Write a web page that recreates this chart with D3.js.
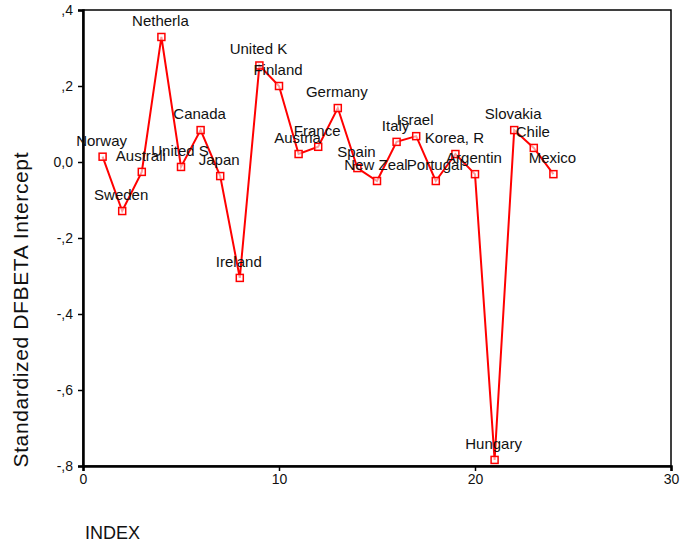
<!DOCTYPE html>
<html lang="en">
<head>
    <meta charset="utf8">
    <title>Standardized DFBETA Intercept</title>
    <script src="https://d3js.org/d3.v7.min.js"></script>
    <style>
        body { margin: 0; background: #fff; }
        svg { display: block; font-family: "Liberation Sans", Arial, sans-serif; }
    </style>
</head>
<body>
    <svg id="chart" width="680" height="548"></svg>
    <script>
        // case index, country label (truncated like the original), DFBETA value
        const caseIndex = [1, 2, 3, 4, 5, 6, 7, 8, 9, 10, 11, 12, 13, 14, 15, 16, 17, 18, 19, 20, 21, 22, 23, 24];
        const countries = ["Norway", "Sweden", "Australi", "Netherla", "United S", "Canada", "Japan", "Ireland",
                           "United K", "Finland", "Austria", "France", "Germany", "Spain", "New Zeal", "Italy",
                           "Israel", "Portugal", "Korea, R", "Argentin", "Hungary", "Slovakia", "Chile", "Mexico"];
        const dfbeta = [0.014, -0.129, -0.026, 0.329, -0.013, 0.084, -0.037, -0.305,
                        0.254, 0.2, 0.021, 0.04, 0.142, -0.016, -0.05, 0.053,
                        0.068, -0.05, 0.021, -0.032, -0.784, 0.084, 0.037, -0.032];
        const xTicks = [0, 10, 20, 30];
        const yTicks = [0.4, 0.2, 0, -0.2, -0.4, -0.6, -0.8];

        const points = caseIndex.map((d, i) => ({ x: d, y: dfbeta[i], name: countries[i] }));

        const svg = d3.select("#chart");
        const plotL = 83, plotR = 671, plotT = 10, plotB = 466;

        const x = d3.scaleLinear().domain([0, 30]).range([plotL, plotR]);
        const y = d3.scaleLinear().domain([-0.8, 0.4]).range([plotB, plotT]);

        // spss style tick text: ",4" "0,0" "-,2"
        const fmtY = v => {
            if (Math.abs(v) < 1e-9) return "0,0";
            const s = d3.format(".1f")(Math.abs(v)).replace("0.", ",");
            return (v < 0 ? "-" : "") + s;
        };

        // frame
        svg.append("rect")
           .attr("x", plotL).attr("y", plotT)
           .attr("width", plotR - plotL).attr("height", plotB - plotT)
           .attr("fill", "none")
           .attr("stroke", "#000")
           .attr("stroke-width", 1.5);

        const yAxis = svg.append("g")
           .attr("transform", `translate(${plotL},0)`)
           .call(d3.axisLeft(y).tickValues(yTicks).tickFormat(fmtY).tickSize(5).tickPadding(5));

        const xAxis = svg.append("g")
           .attr("transform", `translate(0,${plotB})`)
           .call(d3.axisBottom(x).tickValues(xTicks).tickSize(5).tickPadding(3));

        [yAxis, xAxis].forEach(g => {
            g.select(".domain").attr("stroke", "#000").attr("stroke-width", 2.5);
            g.selectAll(".tick line").attr("stroke", "#000").attr("stroke-width", 1.5);
            g.selectAll("text")
             .attr("fill", "#111")
             .style("font-family", "'Liberation Sans', Arial, sans-serif")
             .style("font-size", "14px");
        });

        // axis titles
        svg.append("text")
           .attr("transform", "translate(28,310) rotate(-90)")
           .attr("text-anchor", "middle")
           .attr("textLength", 315)
           .attr("fill", "#111")
           .style("font-size", "21px")
           .text("Standardized DFBETA Intercept");

        svg.append("text")
           .attr("x", 85).attr("y", 539)
           .attr("fill", "#111")
           .style("font-size", "18px")
           .text("INDEX");

        // line
        const line = d3.line().x(d => x(d.x)).y(d => y(d.y));
        svg.append("path")
           .datum(points)
           .attr("d", line)
           .attr("fill", "none")
           .attr("stroke", "#ff0000")
           .attr("stroke-width", 2);

        // square markers
        svg.selectAll("rect.pt")
           .data(points)
           .enter()
           .append("rect")
           .attr("class", "pt")
           .attr("x", d => x(d.x) - 3.5)
           .attr("y", d => y(d.y) - 3.5)
           .attr("width", 7)
           .attr("height", 7)
           .attr("fill", "#fff")
           .attr("fill-opacity", 0.6)
           .attr("stroke", "#ff0000")
           .attr("stroke-width", 1.5);

        // case labels, centred above each point
        svg.selectAll("text.lbl")
           .data(points)
           .enter()
           .append("text")
           .attr("class", "lbl")
           .attr("x", d => x(d.x) - 1)
           .attr("y", d => y(d.y) - 11)
           .attr("text-anchor", "middle")
           .attr("fill", "#111")
           .style("font-size", "15px")
           .text(d => d.name);
    </script>
</body>
</html>
